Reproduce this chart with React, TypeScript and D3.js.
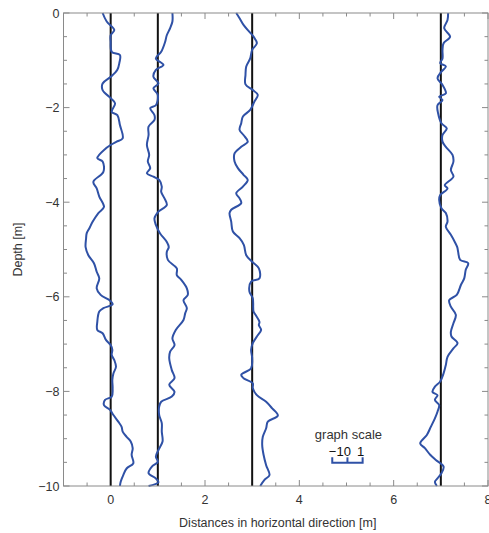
import React from "react";
import * as d3 from "d3";

// well positions along the section [m]
const wellCenters = [0, 1, 3, 7];

// depth [m] / deviation [graph-scale units] for each profile
const depthA = [0, 0.18, 0.36, 0.47, 0.61, 0.82, 0.89, 1.06, 1.2, 1.35, 1.49, 1.63, 1.8, 1.91, 2.09, 2.16, 2.37, 2.65, 2.72, 2.79, 2.86, 3.07, 3.14, 3.36, 3.57, 3.71, 3.88, 4.1, 4.23, 4.41, 4.55, 4.66, 4.77, 4.95, 5.12, 5.29, 5.47, 5.61, 5.82, 5.96, 6.07, 6.16, 6.24, 6.31, 6.53, 6.7, 6.77, 6.91, 7.02, 7.12, 7.23, 7.34, 7.48, 7.62, 7.76, 7.93, 8.11, 8.18, 8.29, 8.39, 8.5, 8.64, 8.75, 8.85, 8.96, 9.06, 9.2, 9.34, 9.52, 9.63, 9.77, 9.91, 10];
const devA = [-0.53, -0.26, 0.24, 0, 0, 0.07, 0.61, 0.57, 0.44, 0, -0.53, -0.53, 0, 0.29, 0.07, 0.44, 0.61, 0.79, 0.39, 0, -0.31, -0.88, -0.53, -0.48, -1.14, -0.92, -0.75, -0.44, -0.81, -1.18, -1.4, -1.58, -1.62, -1.65, -1.47, -1.1, -0.92, -0.75, -0.92, -0.66, -0.09, 0.13, -0.48, -0.75, -0.88, -0.88, -0.53, -0.31, 0, 0.11, 0.07, 0.24, 0.35, 0.18, 0.11, 0.13, 0.07, -0.37, -0.44, -0.04, 0.18, 0.5, 0.72, 0.79, 1.05, 1.32, 1.45, 1.38, 1.49, 1.05, 0.83, 0.66, 0.61];

const depthB = [0, 0.18, 0.32, 0.47, 0.61, 0.82, 0.96, 1.1, 1.2, 1.35, 1.49, 1.59, 1.73, 1.95, 2.01, 2.16, 2.26, 2.4, 2.58, 2.79, 3.0, 3.14, 3.28, 3.39, 3.46, 3.53, 3.67, 3.78, 3.92, 4.06, 4.2, 4.34, 4.48, 4.66, 4.84, 4.95, 5.05, 5.22, 5.4, 5.54, 5.64, 5.82, 5.96, 6.07, 6.24, 6.35, 6.49, 6.7, 6.88, 7.02, 7.16, 7.3, 7.55, 7.72, 7.86, 8.01, 8.11, 8.22, 8.32, 8.5, 8.67, 8.85, 9.06, 9.24, 9.38, 9.49, 9.59, 9.73, 9.84, 9.92, 10];
const devB = [0.96, 0.96, 0.81, 0.59, 0.48, 0.22, -0.13, 0.37, -0.13, -0.29, 0.04, -0.29, 0, -0.13, -0.5, -0.22, -0.22, -0.61, -0.61, -0.72, -0.57, -0.66, -0.5, -0.72, -0.29, 0.09, 0.26, 0.22, 0.44, 0.59, 0.04, -0.22, -0.13, 0.15, 0.59, 0.72, 0.59, 0.66, 1.25, 1.25, 1.54, 1.91, 1.97, 1.69, 1.91, 1.8, 1.69, 1.18, 0.96, 1.1, 0.81, 0.75, 0.92, 1.1, 0.75, 1.1, 0.92, 0.22, 0.09, 0.09, 0.26, 0.26, 0.31, 0.04, -0.13, 0, -0.39, -0.61, -0.13, 0.04, -0.61];

const depthC = [0, 0.11, 0.25, 0.4, 0.5, 0.64, 0.78, 0.96, 1.13, 1.31, 1.51, 1.63, 1.73, 1.87, 2.05, 2.19, 2.33, 2.47, 2.58, 2.72, 2.83, 2.97, 3.14, 3.28, 3.42, 3.53, 3.67, 3.81, 3.92, 4.02, 4.16, 4.23, 4.41, 4.62, 4.76, 4.9, 5.12, 5.26, 5.4, 5.61, 5.68, 5.89, 6.03, 6.31, 6.38, 6.53, 6.6, 6.7, 6.84, 6.98, 7.12, 7.3, 7.51, 7.65, 7.72, 7.83, 7.93, 8.08, 8.22, 8.36, 8.51, 8.64, 8.78, 8.96, 9.13, 9.34, 9.56, 9.77, 9.87, 10];
const devC = [-1.05, -0.83, -0.57, -0.18, 0.09, 0.31, 0, -0.13, -0.39, -0.44, -0.44, 0.04, 0.37, 0.15, -0.13, -0.61, -0.72, -0.83, -0.57, -0.29, -0.72, -1.16, -1.16, -0.94, -0.57, -0.29, -0.61, -1.05, -0.83, -0.72, -1.38, -1.49, -1.38, -1.27, -0.83, -0.55, -0.39, 0, 0.44, 0.48, -0.07, -0.18, 0.04, 0.09, 0.22, 0.48, 0.44, 0.59, 0.31, 0.04, -0.07, 0, -0.07, -0.72, -0.57, 0.04, 0.04, 0.31, 0.92, 1.32, 1.69, 1.03, 0.92, 0.7, 0.66, 0.75, 0.92, 1.14, 0.81, 0.53];

const depthD = [0, 0.15, 0.32, 0.5, 0.64, 0.78, 0.96, 1.06, 1.13, 1.24, 1.38, 1.52, 1.7, 1.77, 1.84, 1.95, 2.12, 2.33, 2.44, 2.58, 2.72, 2.83, 3.0, 3.14, 3.32, 3.46, 3.64, 3.71, 3.85, 3.95, 4.13, 4.23, 4.41, 4.52, 4.69, 4.84, 4.95, 5.05, 5.22, 5.29, 5.43, 5.61, 5.75, 5.96, 6.07, 6.21, 6.38, 6.56, 6.74, 6.84, 6.98, 7.09, 7.27, 7.44, 7.62, 7.79, 7.9, 8.01, 8.08, 8.18, 8.29, 8.43, 8.57, 8.75, 8.92, 9.1, 9.2, 9.34, 9.45, 9.59, 9.73, 9.84, 9.91, 10];
const devD = [0.48, 0.44, 0.22, 0.61, 0.18, 0.11, 0.11, -0.04, 0.33, 0.04, -0.22, 0.11, 0.33, -0.11, 0.11, -0.22, -0.18, 0.04, 0.39, 0.11, 0.11, 0.33, 0.77, 0.83, 0.66, 0.83, 0.26, 0.44, -0.04, -0.11, 0.04, 0.33, 0.44, 0.33, 0.66, 0.92, 1.08, 1.14, 1.27, 1.8, 1.64, 1.54, 1.32, 1.05, 0.55, 0.66, 0.99, 0.83, 0.66, 0.7, 1.1, 0.83, 0.44, 0.33, 0.18, -0.04, -0.39, -0.55, -0.22, -0.39, -0.11, -0.22, -0.39, -0.66, -0.92, -1.36, -1.05, -0.7, -0.33, 0.18, 0.04, -0.22, -0.39, -0.26];

const profiles = [
  { depth: depthA, dev: devA },
  { depth: depthB, dev: devB },
  { depth: depthC, dev: devC },
  { depth: depthD, dev: devD },
];

const xMajor = [0, 2, 4, 6, 8];
const yMajor = [0, -2, -4, -6, -8, -10];
const scaleLabels = ["−1", "0", "1"];

// one graph-scale unit in metres of the horizontal axis
const unitM = 0.322;
const legendCenter = 5.02;
const legendDepth = -9.51;

const W = 489, H = 533;
const left = 63.5, right = 488, top = 13, bottom = 486;
const blue = "#2f51a6";
const frame = "#8a8a8a";
const txt = "#333";
const font = "'Liberation Sans', Arial, sans-serif";

export default function App() {
  const x = d3.scaleLinear().domain([-1, 8]).range([left, right]);
  const y = d3.scaleLinear().domain([-10, 0]).range([bottom, top]);

  const line = d3.line<[number, number]>()
    .x(d => x(d[0]))
    .y(d => y(d[1]))
    .curve(d3.curveCatmullRom.alpha(0.5));

  const xMinor = d3.range(-1, 8.001, 0.5);
  const yMinor = d3.range(-10, 0.001, 0.5);
  const fmt = d3.format("");

  const lx = (v: number) => x(legendCenter + v * unitM);
  const ly = y(legendDepth);

  return (
    <svg width={W} height={H} style={{ position: "absolute", left: 0, top: 0 }} fontFamily={font}>
      <rect x={0} y={0} width={W} height={H} fill="white" />

      {/* minor + major ticks on all four sides */}
      <g stroke={frame} strokeWidth={1}>
        {xMinor.map(v => {
          const len = xMajor.includes(v) ? 6 : 3.5;
          return (
            <g key={"xt" + v}>
              <line x1={x(v)} x2={x(v)} y1={bottom} y2={bottom - len} />
              <line x1={x(v)} x2={x(v)} y1={top} y2={top + len} />
            </g>
          );
        })}
        {yMinor.map(v => {
          const len = yMajor.includes(v) ? 6 : 3.5;
          return (
            <g key={"yt" + v}>
              <line x1={left} x2={left + len} y1={y(v)} y2={y(v)} />
              <line x1={right} x2={right - len} y1={y(v)} y2={y(v)} />
            </g>
          );
        })}
      </g>

      {/* well axes */}
      {wellCenters.map(c => (
        <line key={"w" + c} x1={x(c)} x2={x(c)} y1={top} y2={bottom} stroke="#111" strokeWidth={2} />
      ))}

      {/* profiles */}
      {profiles.map((p, i) => {
        const pts = p.depth.map((d, k) => [wellCenters[i] + p.dev[k] * unitM, -d] as [number, number]);
        return <path key={"p" + i} d={line(pts) || ""} fill="none" stroke={blue} strokeWidth={2} strokeLinejoin="round" />;
      })}

      <rect x={left} y={top} width={right - left} height={bottom - top} fill="none" stroke={frame} strokeWidth={1} />

      {/* tick labels */}
      <g fontSize={12.5} fill={txt}>
        {xMajor.map(v => (
          <text key={"xl" + v} x={x(v)} y={bottom + 18} textAnchor="middle">{fmt(v)}</text>
        ))}
        {yMajor.map(v => (
          <text key={"yl" + v} x={left - 4} y={y(v) + 4.5} textAnchor="end">{fmt(v)}</text>
        ))}
      </g>

      <text x={(left + right) / 2 + 2} y={527} textAnchor="middle" fontSize={12.5} fill={txt}>
        Distances in horizontal direction [m]
      </text>
      <text transform={`translate(22,${(top + bottom) / 2}) rotate(-90)`} textAnchor="middle" fontSize={12.5} fill={txt}>
        Depth [m]
      </text>

      {/* graph scale legend */}
      <text x={lx(0) + 1} y={ly - 24} textAnchor="middle" fontSize={13} fill={txt}>graph scale</text>
      <g fontSize={13} fill="#111" textAnchor="middle">
        <text x={lx(-1) + 4} y={ly - 6.5}>{scaleLabels[0]}</text>
        <text x={lx(0)} y={ly - 6.5}>{scaleLabels[1]}</text>
        <text x={lx(1) - 2} y={ly - 6.5}>{scaleLabels[2]}</text>
      </g>
      <g stroke={blue} strokeWidth={2} fill="none">
        <path d={`M${lx(-1)},${ly - 5.5}V${ly}H${lx(1)}V${ly - 5.5}`} />
        <line x1={lx(0)} x2={lx(0)} y1={ly} y2={ly - 5.5} />
      </g>
    </svg>
  );
}
